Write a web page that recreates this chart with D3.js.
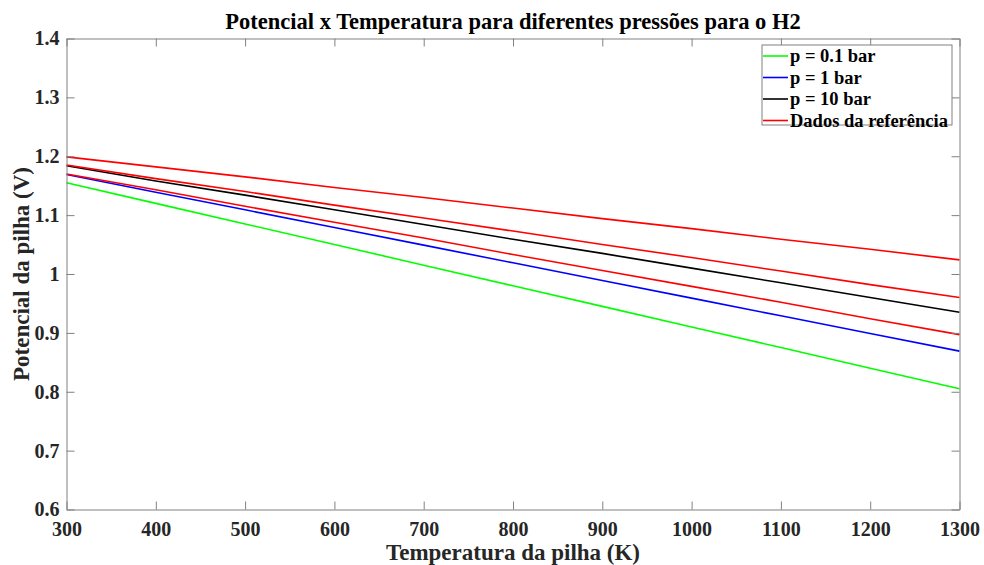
<!DOCTYPE html>
<html><head><meta charset="utf-8">
<script src="https://cdn.jsdelivr.net/npm/d3@7"></script>
<style>body{margin:0;background:#fff}</style>
</head><body><svg id="c" width="984" height="565"></svg>
<script>
const temps = [300,400,500,600,700,800,900,1000,1100,1200,1300];
const p01 = [1.155,1.120,1.085,1.050,1.015,0.980,0.945,0.910,0.875,0.840,0.805];
const p1  = [1.169,1.139,1.109,1.079,1.049,1.019,0.989,0.959,0.929,0.899,0.869];
const p10 = [1.184,1.158,1.134,1.109,1.084,1.059,1.035,1.010,0.985,0.960,0.935];
const ref1 = [1.199,1.182,1.165,1.147,1.130,1.112,1.094,1.077,1.059,1.042,1.024];
const ref2 = [1.185,1.162,1.140,1.117,1.095,1.073,1.050,1.028,1.005,0.982,0.960];
const ref3 = [1.170,1.143,1.115,1.088,1.061,1.033,1.006,0.979,0.952,0.924,0.897];
const xTicks = [300,400,500,600,700,800,900,1000,1100,1200,1300];
const yTicks = [0.6,0.7,0.8,0.9,1,1.1,1.2,1.3,1.4];
const series = [
  {name:"p = 0.1 bar", vals:p01, color:"#00ff00", legend:true},
  {name:"p = 1 bar", vals:p1, color:"#0000ff", legend:true},
  {name:"p = 10 bar", vals:p10, color:"#000000", legend:true},
  {name:"Dados da referência", vals:ref1, color:"#ff0000", legend:true},
  {name:"ref2", vals:ref2, color:"#ff0000", legend:false},
  {name:"ref3", vals:ref3, color:"#ff0000", legend:false}
];
const title = "Potencial x Temperatura para diferentes pressões para o H2";
const xLabel = "Temperatura da pilha (K)";
const yLabel = "Potencial da pilha (V)";

const FONT = '"Liberation Serif","Times New Roman","DejaVu Serif",serif';
const svg = d3.select("#c");
const L=66.5, R=959.5, T=38.5, B=509.5;
const x = d3.scaleLinear().domain([300,1300]).range([L,R]);
const y = d3.scaleLinear().domain([0.6,1.4]).range([B,T]);
const axisColor = "#808080";
const tl = 8;

// lines
const line = d3.line().x((d,i)=>x(temps[i])).y(d=>y(d));
series.forEach(s=>{
  svg.append("path").datum(s.vals).attr("d",line).attr("fill","none")
    .attr("stroke",s.color).attr("stroke-width",1.6);
});

// axes
const fmtY = d => d===1 ? "1" : d3.format(".1f")(d);
const gx = svg.append("g").attr("transform",`translate(0,${B})`)
  .call(d3.axisBottom(x).tickValues(xTicks).tickSizeInner(-tl).tickSizeOuter(0).tickPadding(12).tickFormat(d3.format("d")));
const gxt = svg.append("g").attr("transform",`translate(0,${T})`)
  .call(d3.axisTop(x).tickValues(xTicks).tickSizeInner(-tl).tickSizeOuter(0).tickFormat(""));
const gy = svg.append("g").attr("transform",`translate(${L},0)`)
  .call(d3.axisLeft(y).tickValues(yTicks).tickSizeInner(-tl).tickSizeOuter(0).tickPadding(7).tickFormat(fmtY));
const gyr = svg.append("g").attr("transform",`translate(${R},0)`)
  .call(d3.axisRight(y).tickValues(yTicks).tickSizeInner(-tl).tickSizeOuter(0).tickFormat(""));
[gx,gxt,gy,gyr].forEach(g=>{
  g.attr("font-family",FONT).attr("font-size",20).attr("font-weight","bold");
  g.selectAll("path.domain").attr("stroke",axisColor).attr("stroke-width",1);
  g.selectAll(".tick line").attr("stroke",axisColor);
  g.selectAll(".tick text").attr("fill","#262626");
});
gx.selectAll(".tick text").attr("dy","0.71em");

// title & labels
svg.append("text").attr("x",(L+R)/2).attr("y",29).attr("text-anchor","middle")
  .attr("font-family",FONT).attr("font-weight","bold")
  .attr("font-size",22.5).attr("fill","#000").text(title);
svg.append("text").attr("x",(L+R)/2).attr("y",560).attr("text-anchor","middle")
  .attr("font-family",FONT).attr("font-weight","bold")
  .attr("font-size",23).attr("fill","#262626").text(xLabel);
svg.append("text").attr("transform",`translate(29,${(T+B)/2}) rotate(-90)`).attr("text-anchor","middle")
  .attr("font-family",FONT).attr("font-weight","bold")
  .attr("font-size",23).attr("fill","#262626").text(yLabel);

// legend
const lg = svg.append("g");
const lx=762, ly=45, lw=190, lh=80;
lg.append("rect").attr("x",lx).attr("y",ly).attr("width",lw).attr("height",lh)
  .attr("fill","#fff").attr("stroke",axisColor).attr("stroke-width",1);
series.filter(s=>s.legend).forEach((s,i)=>{
  const yy = ly+11+i*21.5;
  lg.append("line").attr("x1",lx+1).attr("x2",lx+26).attr("y1",yy).attr("y2",yy)
    .attr("stroke",s.color).attr("stroke-width",1.6);
  lg.append("text").attr("x",lx+28).attr("y",yy).attr("dy","0.35em")
    .attr("font-family",FONT).attr("font-weight","bold")
    .attr("font-size",18.5).attr("fill","#000").text(s.name);
});
</script></body></html>
